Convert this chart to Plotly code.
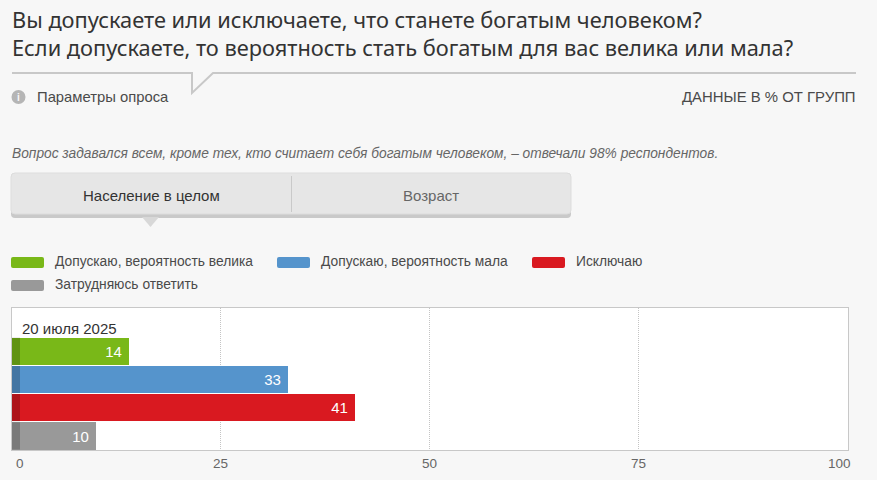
import plotly.graph_objects as go

W, H = 877, 480
L, R, T, B = 12, 848, 308, 450

categories = ["Допускаю, вероятность велика", "Допускаю, вероятность мала", "Исключаю", "Затрудняюсь ответить"]
values = [14, 33, 41, 10]
colors = ["#79b818", "#5594cc", "#d91920", "#999999"]
date_label = "20 июля 2025"
x_ticks = [0, 25, 50, 75, 100]
title_lines = ["Вы допускаете или исключаете, что станете богатым человеком?",
               "Если допускаете, то вероятность стать богатым для вас велика или мала?"]


def px(x):
    return (x - L) / (R - L)


def py(y):
    return 1 - (y - T) / (B - T)


fig = go.Figure()
for i, (c, v, col) in enumerate(zip(categories, values, colors)):
    fig.add_trace(go.Bar(
        x=[v], y=[i], name=c, orientation="h", width=0.965,
        marker=dict(color=col, line=dict(width=0)),
        text=[f"{v}\u00a0"], textposition="inside", insidetextanchor="end",
        textangle=0, constraintext="none",
        textfont=dict(color="white", size=15, family="Liberation Sans"),
        showlegend=False,
    ))

shapes = []
annots = []


def text(x, y, s, size=13, color="#4a4a4a", anchor="left", family="Liberation Sans"):
    annots.append(dict(xref="paper", yref="paper", x=px(x), y=py(y), text=s, showarrow=False,
                       xanchor=anchor, yanchor="middle", align=anchor,
                       font=dict(size=size, color=color, family=family), borderpad=0, borderwidth=0))


def rrect(x0, y0, x1, y1, fill, r=2, line=None, width=0):
    a, b, c, d = x0, y0, x1, y1
    path = (f"M {px(a + r)} {py(b)} L {px(c - r)} {py(b)} Q {px(c)} {py(b)} {px(c)} {py(b + r)} "
            f"L {px(c)} {py(d - r)} Q {px(c)} {py(d)} {px(c - r)} {py(d)} L {px(a + r)} {py(d)} "
            f"Q {px(a)} {py(d)} {px(a)} {py(d - r)} L {px(a)} {py(b + r)} Q {px(a)} {py(b)} {px(a + r)} {py(b)} Z")
    shapes.append(dict(type="path", xref="paper", yref="paper", path=path, fillcolor=fill,
                       line=dict(color=line or fill, width=width), layer="above"))


# dark stub at the start of each bar
for i in range(len(values)):
    shapes.append(dict(type="rect", xref="paper", yref="y", x0=0, x1=px(20), y0=i - 0.4825, y1=i + 0.4825,
                       fillcolor="rgba(0,0,0,0.2)", line=dict(width=0), layer="above"))

# title
text(12, 33.5, "<br>".join(title_lines), size=21.8, color="#333333", family="Noto Sans")

# rule with notch
rule = f"M {px(12)} {py(73)} L {px(192)} {py(73)} L {px(192)} {py(93)} L {px(213)} {py(73)} L {px(856)} {py(73)}"
shapes.append(dict(type="path", xref="paper", yref="paper", path=rule, line=dict(color="#c8c8c8", width=2), layer="above"))

# info icon
shapes.append(dict(type="circle", xref="paper", yref="paper", x0=px(11.5), x1=px(25.5), y0=py(90), y1=py(104),
                   fillcolor="#b5b5b5", line=dict(width=0), layer="above"))
text(18.5, 97, "<b>i</b>", size=10, color="#f7f7f7", anchor="center")
text(37, 97, "Параметры опроса", size=14.8)
text(856, 97, "ДАННЫЕ В % ОТ ГРУПП", size=14.9, anchor="right")
text(12, 153, "<i>Вопрос задавался всем, кроме тех, кто считает себя богатым человеком, – отвечали 98% респондентов.</i>",
     size=13.75, color="#666666")

# tabs
rrect(11, 173, 571, 218, "#c9c9c9", r=4)
rrect(11, 173, 571, 214, "#e6e6e6", r=4, line="#dddddd", width=1)
shapes.append(dict(type="line", xref="paper", yref="paper", x0=px(291.5), x1=px(291.5), y0=py(176), y1=py(212),
                   line=dict(color="#c9c9c9", width=1), layer="above"))
shapes.append(dict(type="path", xref="paper", yref="paper",
                   path=f"M {px(142)} {py(217)} L {px(159)} {py(217)} L {px(150.5)} {py(227)} Z",
                   fillcolor="#d8d8d8", line=dict(width=0), layer="above"))
text(151.5, 195, "Население в целом", size=15, color="#333333", anchor="center")
text(431, 195, "Возраст", size=15, color="#666666", anchor="center")

# legend
legend_pos = [(11, 257), (277, 257), (532, 257), (11, 280)]
legend_text_x = [55, 321, 576, 55]
for (lx, ly), tx, c, col in zip(legend_pos, legend_text_x, categories, colors):
    rrect(lx, ly, lx + 33, ly + 11, col, r=2)
    text(tx, ly + 4, c, size=13.8)

text(22, 328.5, date_label, size=15, color="#333333")

# axis tick labels (end labels sit inside the plot edges)
tick_shift = {0: 8, 25: -1, 50: -1, 75: -1, 100: -9}
for t in x_ticks:
    annots.append(dict(xref="x", yref="paper", x=t, y=py(463), text=str(t), showarrow=False, xanchor="center",
                       yanchor="middle", xshift=tick_shift[t],
                       font=dict(size=13.5, color="#666666", family="Liberation Sans")))

fig.update_layout(
    width=W, height=H, autosize=False, barmode="overlay", bargap=0,
    margin=dict(l=L, r=W - R, t=T, b=H - B, pad=0),
    paper_bgcolor="#f7f7f7", plot_bgcolor="#ffffff",
    xaxis=dict(range=[0, 100], tickvals=[t - 0.05 for t in x_ticks[1:-1]], showticklabels=False, ticks="", showgrid=True,
               gridcolor="#c4c4c4", griddash="1px,1px", gridwidth=1, zeroline=False,
               showline=True, linecolor="#c8c8c8", linewidth=1, mirror=True),
    yaxis=dict(range=[3.5, -1.535], showticklabels=False, ticks="", showgrid=False, zeroline=False,
               showline=True, linecolor="#c8c8c8", linewidth=1, mirror=True),
    shapes=shapes, annotations=annots, showlegend=False,
)

fig.write_html("out.html", config=dict(displayModeBar=False),
               post_script="document.body.style.margin='0';document.body.style.background='#f7f7f7';")
